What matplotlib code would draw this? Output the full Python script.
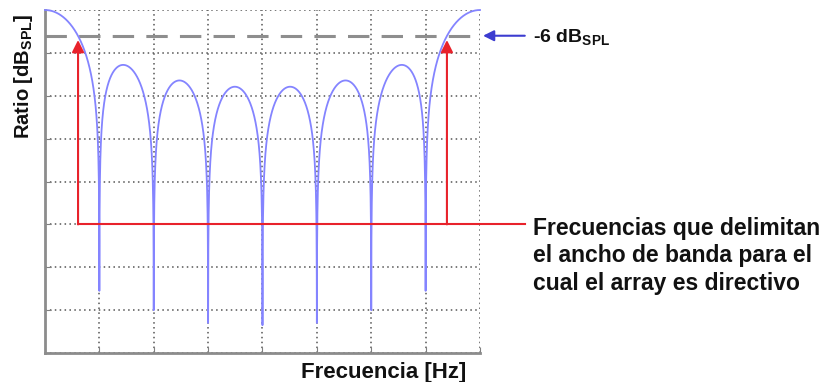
import numpy as np
import matplotlib.pyplot as plt

plt.rcParams['font.family'] = ['Liberation Sans', 'DejaVu Sans']
plt.rcParams['mathtext.fontset'] = 'custom'
plt.rcParams['mathtext.bf'] = 'Liberation Sans:bold'
plt.rcParams['mathtext.rm'] = 'Liberation Sans:bold'

# values
n_elements = 8                      # 7 nulls between the two main lobes
null_depth_db = [-65.5, -70.0, -73.0, -73.5, -73.0, -70.0, -65.5]
cutoff_db = -6
band_edges = [0.076, 0.924]         # normalised frequency where the lobes cross -6 dB
band_level_db = -50                 # level of the red horizontal line
arrow_tip_db = -7.0
grid_x = np.arange(0, 1.0001, 1 / 8)
grid_y = np.arange(-80, 1, 10)
note_lines = ['Frecuencias que delimitan',
              'el ancho de banda para el',
              'cual el array es directivo']


def array_factor_db(f, n):
    u = np.pi * f
    num = np.sin(n * u)
    den = n * np.sin(u)
    af = np.where(np.abs(den) < 1e-12, 1.0, np.abs(num) / np.where(den == 0, 1, np.abs(den)))
    return 20 * np.log10(np.maximum(af, 1e-20))


freq = np.linspace(0, 1, 4001)
level = array_factor_db(freq, n_elements)
# each null only goes down as far as it does in the picture
k = np.clip(np.rint(freq * n_elements).astype(int) - 1, 0, len(null_depth_db) - 1)
level = np.maximum(level, np.array(null_depth_db)[k])

fig = plt.figure(figsize=(8.27, 3.82), dpi=100)
ax = fig.add_axes([0.0544, 0.0759, 0.5260, 0.8979])

ax.plot(freq, level, color='#8484ff', lw=1.3, zorder=3, clip_on=False)
ax.axhline(cutoff_db, color='#8e8e8e', lw=2.2, dashes=(7, 4), zorder=2)

ax.set_xlim(0, 1)
ax.set_ylim(-80, 0)
ax.set_xticks(grid_x)
ax.set_yticks(grid_y)
ax.set_xticklabels([])
ax.set_yticklabels([])
ax.grid(True, color='#555555', linestyle=(0, (1, 2.2)), lw=1.1)
ax.tick_params(direction='in', length=4, color='#808080')
for s in ['top', 'right']:
    ax.spines[s].set_visible(False)
for s in ['left', 'bottom']:
    ax.spines[s].set_color('#8c8c8c')
    ax.spines[s].set_linewidth(2)

# red markers for the band edges
red = '#e8222b'
for fx in band_edges:
    ax.annotate('', xy=(fx, arrow_tip_db), xytext=(fx, band_level_db),
                arrowprops=dict(arrowstyle='-|>', color=red, lw=1.5,
                                mutation_scale=18, shrinkA=0, shrinkB=0), zorder=4)
ax.plot([band_edges[0], 1.103], [band_level_db, band_level_db],
        color=red, lw=1.5, clip_on=False, zorder=4)

# blue arrow to the -6 dB line
ax.annotate('', xy=(1.007, cutoff_db), xytext=(1.103, cutoff_db),
            xycoords='data', textcoords='data',
            arrowprops=dict(arrowstyle='-|>', color='#3c3cd0', lw=1.5,
                            mutation_scale=16, shrinkA=0, shrinkB=0),
            annotation_clip=False)
ax.text(1.122, cutoff_db - 0.6, r'-6 dB$_{\mathbf{SPL}}$', fontsize=14,
        fontweight='bold', va='center', ha='left', color='#111111')

for i, line in enumerate(note_lines):
    fig.text(0.6445, 0.403 - i * 0.072, line, fontsize=16.5, fontweight='bold',
             va='center', ha='left', color='#111111')

fig.text(0.028, 0.80, r'Ratio [dB$_{\mathbf{SPL}}$]', rotation=90, fontsize=14.5,
         fontweight='bold', va='center', ha='center', color='#111111')
fig.text(0.464, 0.026, 'Frecuencia [Hz]', fontsize=16, fontweight='bold',
         va='center', ha='center', color='#111111')

fig.savefig('out.png', dpi=100)
